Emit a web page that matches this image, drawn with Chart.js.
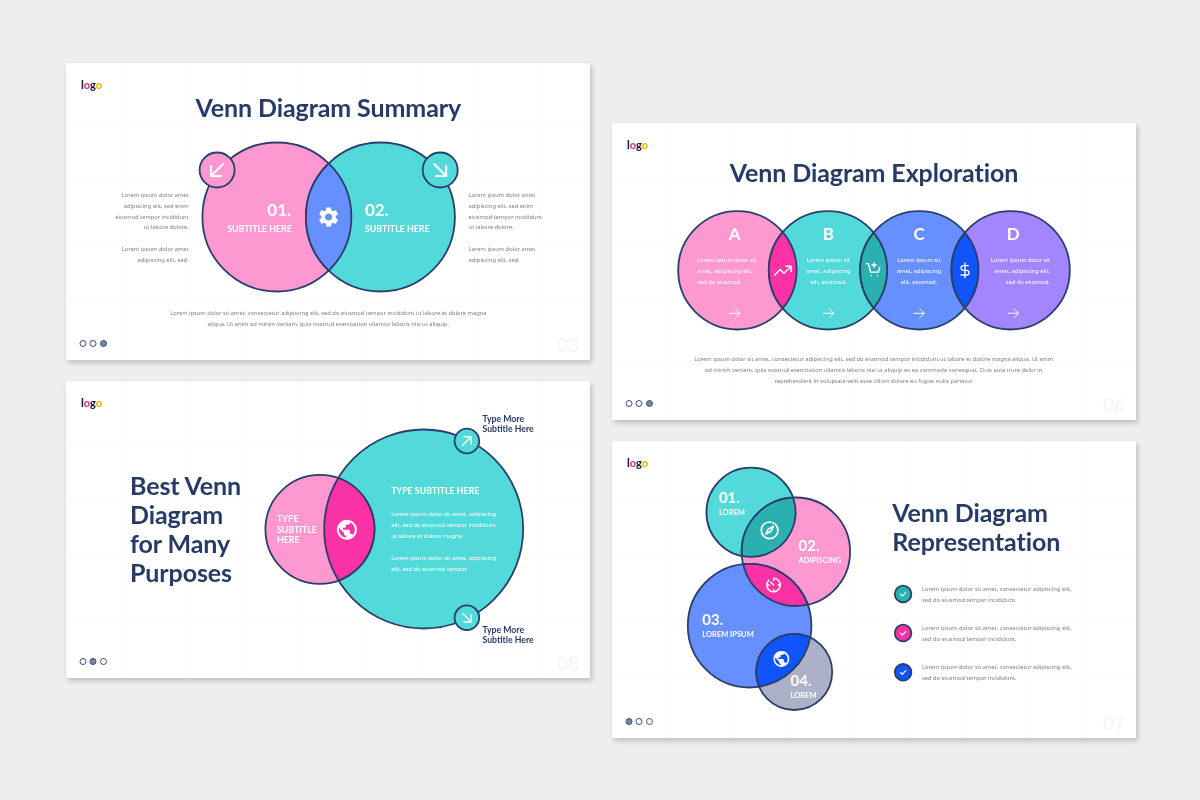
<!DOCTYPE html>
<html lang="en">

<head>
    <meta charset="UTF-8">
    <title>Venn Diagram Slides</title>
    <style>
        body {
            margin: 0;
            width: 1200px;
            height: 800px;
            background-color: #eeeeee;
            overflow: hidden;
            position: relative;
            font-family: "Noto Sans", sans-serif;
        }

        .slide {
            position: absolute;
            width: 524px;
            height: 297px;
            background-color: #fff;
            box-shadow: 2px 3px 5px rgba(0, 0, 0, 0.2);
        }

        .slide canvas {
            position: absolute;
            left: 0;
            top: 0;
        }

        .t {
            position: absolute;
            white-space: nowrap;
            line-height: 1;
        }

        .title { font-family: Lato, sans-serif; font-weight: 700; font-size: 25px; letter-spacing: -0.1px; color: #263b66; }
        .body { font-size: 5.75px; color: #808080; margin-top: 0.7px; }
        .inv { font-size: 5.75px; color: #fff; margin-top: 0.7px; }
        .num { font-family: Lato, sans-serif; font-weight: 700; font-size: 17px; color: #fff; margin-top: -1.2px; }
        .numS { font-family: Lato, sans-serif; font-weight: 700; font-size: 15px; color: #fff; margin-top: -1.5px; }
        .sub { font-family: Lato, sans-serif; font-weight: 700; font-size: 8.8px; color: #fff; }
        .subS { font-family: Lato, sans-serif; font-weight: 700; font-size: 7.5px; color: #fff; margin-top: 0.5px; }
        .more { font-family: Lato, sans-serif; font-weight: 700; font-size: 8.7px; color: #263b66; }
        .page { font-family: Lato, sans-serif; font-size: 19px; color: #f3f4f6; }
        .logo { font-family: Lato, sans-serif; font-weight: 900; font-size: 11px; color: #1c2433; margin-top: -0.7px; }
    </style>
</head>

<body>
    <script src="https://cdn.jsdelivr.net/npm/chart.js"></script>
    <script>
        // circle centres and radii per slide (slide units = px)
        const summaryX = [210.9, 314.4, 151.1, 374.2];
        const summaryY = [154, 154, 107, 107];
        const summaryR = [74.5, 74.5, 17.5, 17.5];

        const explorationX = [125.4, 216, 307.3, 398.6];
        const explorationY = [147.3, 147.3, 147.3, 147.3];
        const explorationR = [59.2, 59.2, 59.2, 59.2];

        const purposesX = [357.7, 253.9, 400.9, 400.9];
        const purposesY = [148, 148.3, 60, 236.7];
        const purposesR = [99.5, 54.5, 12.3, 12.3];

        const representationX = [139, 183.9, 137.6, 182.2, 291.1, 291.1, 291.1];
        const representationY = [71.3, 110.7, 184.7, 231, 153, 192, 231.3];
        const representationR = [44.6, 54.2, 61.8, 38, 8.3, 8.3, 8.3];

        const navX = [17, 27, 37.5];
        const navY = [280.5, 280.5, 280.5];
        const navR = [3, 3, 3];

        const pink = '#fd98d0', teal = '#52d9d9', blue = '#6690ff', purple = '#a385ff', gray = '#abb2c8';
        const hotPink = '#fa32a6', darkTeal = '#2bb0b0', brightBlue = '#0f55fb';
        const ink = '#2a3f6b';

        const iconPaths = {
            downLeft: { d: 'M18 6L6 18M6 8v10h10' },
            downRight: { d: 'M6 6l12 12M18 8v10H8' },
            upRight: { d: 'M6 18L18 6M8 6h10v10' },
            right: { d: 'M3 12h18M13 4l8 8-8 8', w: 1.6 },
            trend: { d: 'M1 18l7.5-7.5 5 5L23 6M16 6h7v7' },
            cart: { d: 'M2 3h3l3 12h11l2-7M9 20h.01M18 20h.01M13 2v6M10 5h6' },
            dollar: { d: 'M12 1v22M17 5H9.5a3.5 3.5 0 0 0 0 7h5a3.5 3.5 0 0 1 0 7H6' },
            check: { d: 'M5 12.5l5 5 9-10', w: 3 },
            compass: { d: 'M12 2a10 10 0 1 0 0 20a10 10 0 1 0 0-20zM16.5 7.5l-3 6-6 3 3-6z' },
            timer: { d: 'M12 3a9 9 0 1 1-6.4 2.6M12 3v3M6 12H4.5M12 18v1.5M18 12h1.5M12 12L8 8' },
            gear: { fill: true, d: 'M19.14 12.94c.04-.3.06-.61.06-.94 0-.32-.02-.64-.07-.94l2.03-1.58c.18-.14.23-.41.12-.61l-1.92-3.32c-.12-.22-.37-.29-.59-.22l-2.39.96c-.5-.38-1.03-.7-1.62-.94l-.36-2.54c-.04-.24-.24-.41-.48-.41h-3.84c-.24 0-.43.17-.47.41l-.36 2.54c-.59.24-1.13.57-1.62.94l-2.39-.96c-.22-.08-.47 0-.59.22L2.74 8.87c-.12.21-.08.47.12.61l2.03 1.58c-.05.3-.09.63-.09.94s.02.64.07.94l-2.03 1.58c-.18.14-.23.41-.12.61l1.92 3.32c.12.22.37.29.59.22l2.39-.96c.5.38 1.03.7 1.62.94l.36 2.54c.05.24.24.41.48.41h3.84c.24 0 .44-.17.47-.41l.36-2.54c.59-.24 1.13-.56 1.62-.94l2.39.96c.22.08.47 0 .59-.22l1.92-3.32c.12-.22.07-.47-.12-.61l-2.01-1.58zM12 15.6c-1.98 0-3.6-1.62-3.6-3.6s1.62-3.6 3.6-3.6 3.6 1.62 3.6 3.6-1.62 3.6-3.6 3.6z' },
            globe: { fill: true, d: 'M12 2C6.48 2 2 6.48 2 12s4.48 10 10 10 10-4.48 10-10S17.52 2 12 2zm-1 17.93c-3.95-.49-7-3.85-7-7.93 0-.62.08-1.21.21-1.79L9 15v1c0 1.1.9 2 2 2v1.93zm6.9-2.54c-.26-.81-1-1.39-1.9-1.39h-1v-3c0-.55-.45-1-1-1H8v-2h2c.55 0 1-.45 1-1V7h2c1.1 0 2-.9 2-2v-.41c2.93 1.19 5 4.06 5 7.41 0 2.08-.8 3.97-2.1 5.39z' }
        };

        // overlap of two circles of dataset 0, filled darker with its own outline
        const lensPlugin = {
            id: 'lens',
            afterDatasetsDraw(chart, args, opts) {
                const ctx = chart.ctx, xs = chart.scales.x, ys = chart.scales.y;
                const pts = chart.data.datasets[0].data;
                (opts.pairs || []).forEach(([i, j, color]) => {
                    const ax = xs.getPixelForValue(pts[i].x), ay = ys.getPixelForValue(pts[i].y), ar = pts[i].r;
                    const bx = xs.getPixelForValue(pts[j].x), by = ys.getPixelForValue(pts[j].y), br = pts[j].r;
                    const d = Math.hypot(bx - ax, by - ay), th = Math.atan2(by - ay, bx - ax);
                    const a = Math.acos((d * d + ar * ar - br * br) / (2 * d * ar));
                    const b = Math.acos((d * d + br * br - ar * ar) / (2 * d * br));
                    ctx.save();
                    ctx.beginPath();
                    ctx.arc(ax, ay, ar, th - a, th + a);
                    ctx.arc(bx, by, br, th + Math.PI - b, th + Math.PI + b);
                    ctx.closePath();
                    ctx.fillStyle = color;
                    ctx.fill();
                    ctx.strokeStyle = ink;
                    ctx.lineWidth = 1.8;
                    ctx.stroke();
                    ctx.restore();
                });
            }
        };

        const iconPlugin = {
            id: 'icons',
            afterDraw(chart, args, opts) {
                const ctx = chart.ctx, xs = chart.scales.x, ys = chart.scales.y;
                (opts.items || []).forEach(([name, x, y, size]) => {
                    const icon = iconPaths[name];
                    const k = size / 24;
                    ctx.save();
                    ctx.translate(xs.getPixelForValue(x), ys.getPixelForValue(y));
                    ctx.scale(k, k);
                    ctx.translate(-12, -12);
                    const p = new Path2D(icon.d);
                    if (icon.fill) {
                        ctx.fillStyle = '#fff';
                        ctx.fill(p);
                    } else {
                        ctx.strokeStyle = '#fff';
                        ctx.lineWidth = icon.w || 2;
                        ctx.lineCap = 'round';
                        ctx.lineJoin = 'round';
                        ctx.stroke(p);
                    }
                    ctx.restore();
                });
            }
        };

        function makeSlide(left, top) {
            const el = document.createElement('div');
            el.className = 'slide';
            el.style.left = left + 'px';
            el.style.top = top + 'px';
            const canvas = document.createElement('canvas');
            canvas.width = 524;
            canvas.height = 297;
            el.appendChild(canvas);
            document.body.appendChild(el);
            return { el, canvas };
        }

        function makeChart(slide, xs, ys, rs, colors, activeNav, pairs, icons) {
            const toPoints = (a, b, c) => a.map((v, i) => ({ x: v, y: b[i], r: c[i] }));
            return new Chart(slide.canvas, {
                type: 'bubble',
                data: {
                    datasets: [
                        {
                            data: toPoints(xs, ys, rs),
                            backgroundColor: colors,
                            borderColor: ink,
                            borderWidth: 1.8,
                            clip: false
                        },
                        {
                            data: toPoints(navX, navY, navR),
                            backgroundColor: navX.map((v, i) => i === activeNav ? '#7888aa' : '#fff'),
                            borderColor: '#3c4f78',
                            borderWidth: 1,
                            clip: false
                        }
                    ]
                },
                options: {
                    responsive: false,
                    animation: false,
                    layout: { padding: 0, autoPadding: false },
                    scales: {
                        x: {
                            type: 'linear', min: 0, max: 524,
                            border: { display: false },
                            grid: { color: '#fbfbfc', drawTicks: false },
                            ticks: { display: false, stepSize: 59, autoSkip: false }
                        },
                        y: {
                            type: 'linear', min: 0, max: 297, reverse: true,
                            border: { display: false },
                            grid: { color: '#fbfbfc', drawTicks: false },
                            ticks: { display: false, stepSize: 59, autoSkip: false }
                        }
                    },
                    plugins: {
                        legend: { display: false },
                        tooltip: { enabled: false },
                        lens: { pairs: pairs },
                        icons: { items: icons }
                    }
                },
                plugins: [lensPlugin, iconPlugin]
            });
        }

        // y is the text's vertical centre; align l / r / c anchors x
        function put(slide, text, x, y, cls, align) {
            const s = document.createElement('div');
            s.className = 't ' + cls;
            s.textContent = text;
            s.style.left = x + 'px';
            s.style.top = y + 'px';
            const tx = align === 'r' ? '-100%' : align === 'c' ? '-50%' : '0';
            s.style.transform = `translate(${tx}, -50%)`;
            slide.el.appendChild(s);
            return s;
        }

        function putLines(slide, lines, x, ys, cls, align) {
            lines.forEach((line, i) => put(slide, line, x, ys[i], cls, align));
        }

        function furniture(slide, pageNo) {
            const logo = put(slide, '', 15, 21.5, 'logo', 'l');
            logo.innerHTML = 'l<span style="color:#e0359b">o</span>g<span style="color:#e8b800">o</span>';
            put(slide, pageNo, 513, 281, 'page', 'r');
        }

        const slide1 = makeSlide(66, 63);
        const slide2 = makeSlide(612, 123);
        const slide3 = makeSlide(66, 381);
        const slide4 = makeSlide(612, 441);

        makeChart(slide1, summaryX, summaryY, summaryR, [pink, teal, pink, teal], 2,
            [[0, 1, blue]],
            [['downLeft', 151.1, 107, 24], ['downRight', 374.2, 107, 24], ['gear', 262.6, 154, 24]]);

        makeChart(slide2, explorationX, explorationY, explorationR, [pink, teal, blue, purple], 2,
            [[0, 1, hotPink], [1, 2, darkTeal], [2, 3, brightBlue]],
            [['trend', 170.8, 147.7, 18], ['cart', 261.4, 147, 17], ['dollar', 353, 147.3, 16],
             ['right', 122.7, 190.3, 14], ['right', 216.4, 190.3, 14], ['right', 307, 190.3, 14], ['right', 401.3, 190.3, 14]]);

        makeChart(slide3, purposesX, purposesY, purposesR, [teal, pink, teal, teal], 1,
            [[0, 1, hotPink]],
            [['globe', 280.9, 148.7, 24], ['upRight', 400.9, 60, 17], ['downRight', 400.9, 236.7, 17]]);

        makeChart(slide4, representationX, representationY, representationR,
            [teal, pink, blue, gray, darkTeal, hotPink, brightBlue], 0,
            [[0, 1, darkTeal], [1, 2, hotPink], [2, 3, brightBlue]],
            [['compass', 157.6, 89.3, 20], ['timer', 161.6, 144, 18], ['globe', 169.4, 218, 19],
             ['check', 291.1, 153, 9], ['check', 291.1, 192, 9], ['check', 291.1, 231.3, 9]]);

        // slide 1
        furniture(slide1, '03');
        put(slide1, 'Venn Diagram Summary', 262.3, 43.5, 'title', 'c');
        putLines(slide1, ['Lorem ipsum dolor amet', 'adipiscing elit, sed enim', 'eiusmod tempor incididunt', 'ut labore dolore.', 'Lorem ipsum dolor amet', 'adipiscing elit, sed.'],
            122.7, [132, 143, 154, 164.7, 186.3, 197], 'body', 'r');
        putLines(slide1, ['Lorem ipsum dolor amet', 'adipiscing elit, sed enim', 'eiusmod tempor incididunt', 'ut labore dolore.', 'Lorem ipsum dolor amet', 'adipiscing elit, sed.'],
            402.6, [132, 143, 154, 164.7, 186.3, 197], 'body', 'l');
        put(slide1, '01.', 225.1, 147, 'num', 'r');
        put(slide1, 'SUBTITLE HERE', 225.8, 165.7, 'sub', 'r');
        put(slide1, '02.', 298.9, 147, 'num', 'l');
        put(slide1, 'SUBTITLE HERE', 298.9, 165.7, 'sub', 'l');
        putLines(slide1, ['Lorem ipsum dolor sit amet, consectetur adipiscing elit, sed do eiusmod tempor incididunt ut labore et dolore magna', 'aliqua. Ut enim ad minim veniam, quis nostrud exercitation ullamco laboris nisi ut aliquip.'],
            262.3, [250.3, 261.3], 'body', 'c');

        // slide 2
        furniture(slide2, '06');
        put(slide2, 'Venn Diagram Exploration', 262, 49, 'title', 'c');
        put(slide2, 'A', 122.7, 111.3, 'num', 'c');
        put(slide2, 'B', 216.4, 111.3, 'num', 'c');
        put(slide2, 'C', 307, 111.3, 'num', 'c');
        put(slide2, 'D', 401.3, 111.3, 'num', 'c');
        putLines(slide2, ['Lorem ipsum dolor sit', 'amet, adipiscing elit,', 'sed do eiusmod.'], 85.2, [137, 148, 159], 'inv', 'l');
        putLines(slide2, ['Lorem ipsum sit', 'amet, adipiscing', 'elit, eiusmod.'], 216.4, [137, 148, 159], 'inv', 'c');
        putLines(slide2, ['Lorem ipsum sit', 'amet, adipiscing', 'elit, eiusmod.'], 307, [137, 148, 159], 'inv', 'c');
        putLines(slide2, ['Lorem ipsum dolor sit', 'amet, adipiscing elit,', 'sed do eiusmod.'], 438.2, [137, 148, 159], 'inv', 'r');
        putLines(slide2, ['Lorem ipsum dolor sit amet, consectetur adipiscing elit, sed do eiusmod tempor incididunt ut labore et dolore magna aliqua. Ut enim', 'ad minim veniam, quis nostrud exercitation ullamco laboris nisi ut aliquip ex ea commodo consequat. Duis aute irure dolor in', 'reprehenderit in voluptate velit esse cillum dolore eu fugiat nulla pariatur.'],
            261.7, [236, 247, 258], 'body', 'c');

        // slide 3
        furniture(slide3, '08');
        putLines(slide3, ['Best Venn', 'Diagram', 'for Many', 'Purposes'], 64, [104.3, 133.3, 162, 191.3], 'title', 'l');
        putLines(slide3, ['TYPE', 'SUBTITLE', 'HERE'], 211, [137.7, 148.7, 159], 'sub', 'l');
        put(slide3, 'TYPE SUBTITLE HERE', 325.2, 110.3, 'sub', 'l');
        putLines(slide3, ['Lorem ipsum dolor sit amet, adipiscing', 'elit, sed do eiusmod tempor incididunt', 'ut labore et dolore magna.', 'Lorem ipsum dolor sit amet, adipiscing', 'elit, sed do eiusmod tempor.'],
            325.2, [133.3, 144.3, 155.3, 177.3, 188.3], 'inv', 'l');
        putLines(slide3, ['Type More', 'Subtitle Here'], 416.5, [37.7, 48.3], 'more', 'l');
        putLines(slide3, ['Type More', 'Subtitle Here'], 416.5, [248.7, 259.3], 'more', 'l');

        // slide 4
        furniture(slide4, '07');
        putLines(slide4, ['Venn Diagram', 'Representation'], 280.3, [71, 100], 'title', 'l');
        put(slide4, '01.', 106.9, 57.7, 'numS', 'l');
        put(slide4, 'LOREM', 106.9, 71.3, 'subS', 'l');
        put(slide4, '02.', 186.6, 105.7, 'numS', 'l');
        put(slide4, 'ADIPISCING', 186.6, 119.3, 'subS', 'l');
        put(slide4, '03.', 90.3, 179, 'numS', 'l');
        put(slide4, 'LOREM IPSUM', 90.3, 193, 'subS', 'l');
        put(slide4, '04.', 178.5, 240.3, 'numS', 'l');
        put(slide4, 'LOREM', 178.5, 254, 'subS', 'l');
        [[148, 159], [187, 198], [226, 237]].forEach(ys => {
            putLines(slide4, ['Lorem ipsum dolor sit amet, consectetur adipiscing elit,', 'sed do eiusmod tempor incididunt.'], 310, ys, 'body', 'l');
        });
    </script>
</body>

</html>
